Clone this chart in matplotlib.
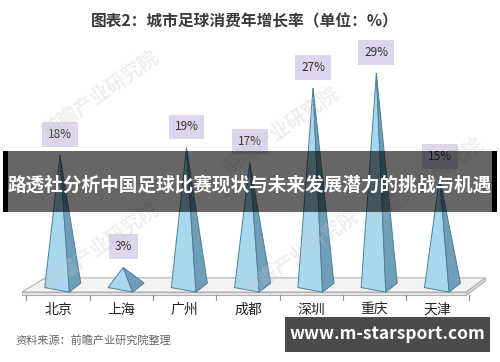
import matplotlib.pyplot as plt
from matplotlib.patches import Polygon, Rectangle

plt.rcParams['font.family'] = ['Noto Sans CJK SC', 'DejaVu Sans']

cities = ['北京', '上海', '广州', '成都', '深圳', '重庆', '天津']
growth = [18, 3, 19, 17, 27, 29, 15]
title = '图表2：城市足球消费年增长率（单位：%）'
banner = '路透社分析中国足球比赛现状与未来发展潜力的挑战与机遇'
source = '资料来源：前瞻产业研究院整理'
site = 'www.m-starsport.com'
watermark = '前瞻产业研究院'

fig = plt.figure(figsize=(5, 3.62), dpi=100)
ax = fig.add_axes([0.0274, 0.158, 0.962, 0.723])
ax.set_xlim(-0.7, 6.9)
ax.set_ylim(-2, 33)
ax.axis('off')

# faint watermarks
for wx, wy in [(0.2, 0.74), (0.56, 0.64), (0.2, 0.32), (0.6, 0.3), (0.85, 0.5)]:
    fig.text(wx, wy, watermark, ha='center', va='center', fontsize=14, rotation=35,
             color='#c8c8c8', alpha=0.3, fontweight='bold', zorder=0)

# floor slab
ax.add_patch(Polygon([(-0.57, -0.3), (-0.2, 1.6), (6.75, 1.6), (6.45, -0.3)],
                     closed=True, facecolor='#f3f3f3', edgecolor='#b0b0b0', lw=0.8, zorder=1))
ax.add_patch(Polygon([(-0.57, -0.3), (6.45, -0.3), (6.45, -0.75), (-0.57, -0.75)],
                     closed=True, facecolor='#e6e6e6', edgecolor='#b0b0b0', lw=0.8, zorder=1))
ax.add_patch(Polygon([(6.45, -0.3), (6.75, 1.6), (6.75, 1.15), (6.45, -0.75)],
                     closed=True, facecolor='#d8d8d8', edgecolor='#b0b0b0', lw=0.8, zorder=1))
for i in range(len(cities) + 1):
    xb = i - 0.5
    ax.plot([xb, xb], [-0.75, -1.3], color='#909090', lw=0.8, zorder=1)

# pyramids
for i, v in enumerate(growth):
    front = [(i - 0.21, 0.3), (i + 0.18, -0.3), (i + 0.03, v)]
    side = [(i + 0.18, -0.3), (i + 0.36, 0.9), (i + 0.03, v)]
    ax.add_patch(Polygon(front, closed=True, facecolor='#a8d8ef', edgecolor='#4d7f99', lw=0.7, zorder=3))
    ax.add_patch(Polygon(side, closed=True, facecolor='#6f9fb8', edgecolor='#4d7f99', lw=0.7, zorder=3))
    ax.annotate(f'{v}%', (i + 0.03, v), xytext=(0, 15), textcoords='offset points',
                ha='center', va='center', fontsize=8.5, color='#333333',
                bbox=dict(boxstyle='square,pad=0.5', facecolor='#dcd5ec', edgecolor='none'),
                zorder=4)
    ax.text(i, -2.7, cities[i], ha='center', va='center', fontsize=10, color='#222222')

fig.text(0.49, 0.94, title, ha='center', va='center', fontsize=11.3, fontweight='bold', color='#3a3a3a')
fig.text(0.03, 0.06, source, ha='left', va='center', fontsize=8, style='italic', color='#666666')

# banner overlay
fig.patches.append(Rectangle((0.006, 0.414), 0.988, 0.169, transform=fig.transFigure,
                             facecolor='black', alpha=0.6, zorder=10))
fig.patches.append(Rectangle((0.006, 0.414), 0.01, 0.169, transform=fig.transFigure,
                             facecolor='black', zorder=11))
fig.patches.append(Rectangle((0.984, 0.414), 0.01, 0.169, transform=fig.transFigure,
                             facecolor='black', zorder=11))
fig.text(0.5, 0.49, banner, ha='center', va='center', fontsize=13.4, fontweight='bold',
         color='white', zorder=12)

# site box
fig.patches.append(Rectangle((0.57, 0.028), 0.41, 0.097, transform=fig.transFigure,
                             facecolor='#4b4b4b', zorder=10))
fig.text(0.775, 0.077, site, ha='center', va='center', fontsize=12.5, fontweight='bold',
         color='white', zorder=12)

fig.savefig('out.png', dpi=100)
